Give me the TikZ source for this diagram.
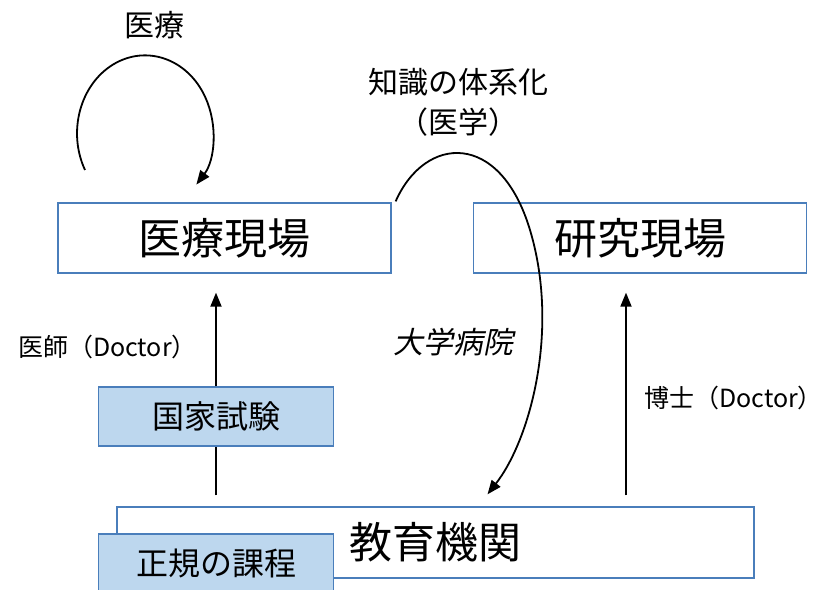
\documentclass[tikz,border=0pt]{standalone}
\usepackage{fontspec}
\setmainfont{Noto Sans CJK JP}
\newfontfamily\slantjp[FakeSlant=0.2]{Noto Sans CJK JP}
\usetikzlibrary{arrows.meta}
\definecolor{boxline}{HTML}{4A7EBB}
\definecolor{boxfill}{HTML}{BDD7EE}

\begin{document}
\begin{tikzpicture} [x=1pt, y=1pt, >={Triangle[length=14pt, width=11pt]},
        place/.style = {draw=boxline, line width=1.3pt, fill=white, minimum width=333pt, minimum height=70pt, font=\fontsize{43}{50}\selectfont},
        stage/.style = {draw=boxline, line width=1.3pt, fill=boxfill, minimum width=235pt, minimum height=59pt, font=\fontsize{32}{38}\selectfont},
        tag/.style = {font=\fontsize{30}{40}\selectfont, align=center},
        doc/.style = {font=\fontsize{25}{30}\selectfont, inner sep=0pt},
        flow/.style = {line width=1.8pt}]
        \useasboundingbox (0,0) rectangle (826,589);

        % boxes
        \node[place] (care) at (224.5,351) {医療現場};
        \node[place] (research) at (640,351) {研究現場};
        \node[place, minimum width=637pt, minimum height=71pt] (edu) at (435.5,46.5) {教育機関};
        \node[stage] (exam) at (216,172.5) {国家試験};
        \node[stage] (course) at (216,25.5) {正規の課程};

        % arrows up
        \draw[flow, shorten <=11pt] (edu.north -| exam) -- (exam.south);
        \draw[flow, ->, shorten >=19pt] (exam.north) -- (care.south -| exam);
        \draw[flow, ->, shorten <=11pt, shorten >=19pt] ([xshift=-14pt]research.south |- edu.north) -- ([xshift=-14pt]research.south);

        % labels
        \node[doc, anchor=east] (md) at (197,242) {医師（Doctor）};
        \node[doc, anchor=west] (phd) at (644,191) {博士（Doctor）};
        \node[tag] (practice) at (154,564) {医療};
        \node[tag] (knowledge) at (458,487) {知識の体系化\\（医学）};
        \node[tag, font=\slantjp\fontsize{30}{34}\selectfont] (hospital) at (453,247) {大学病院};

        % curves
        \coordinate (loopstart) at (85,419);
        \draw[flow, ->] (loopstart) arc[start angle=208, end angle=-41, x radius=68, y radius=78];
        \draw[flow, ->] ([xshift=4pt, yshift=1pt]care.north east) .. controls (425,454) and (500,459) .. (530,359)
            .. controls (560,259) and (530,149) .. ([xshift=52pt, yshift=12pt]edu.north);
\end{tikzpicture}
\end{document}
